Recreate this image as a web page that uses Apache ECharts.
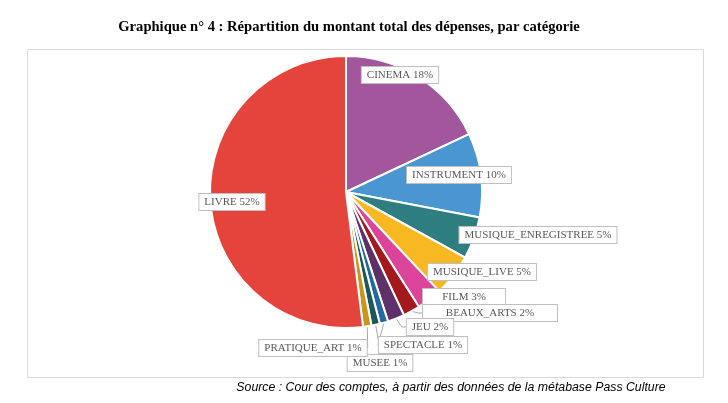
<!DOCTYPE html>
<html>
<head>
<meta charset="utf-8">
<script src="https://cdn.jsdelivr.net/npm/echarts@6/dist/echarts.min.js"></script>
<style>
html,body{margin:0;padding:0;background:#fff;}
#chart{width:728px;height:403px;}
</style>
</head>
<body>
<div id="chart"></div>
<script>
// Data (percent of total spending, clockwise from top)
const categories = ['CINEMA','INSTRUMENT','MUSIQUE_ENREGISTREE','MUSIQUE_LIVE','FILM','BEAUX_ARTS','JEU','SPECTACLE','MUSEE','PRATIQUE_ART','LIVRE'];
const shares = [18,10,5,5,3,2,2,1,1,1,52];
const colors = ['#A2569C','#4A96D0','#2E7D80','#F8B822','#DC449A','#A3191E','#5E3168','#2468A0','#1E5858','#C8961A','#E5443D'];
const titleText = 'Graphique n° 4 : Répartition du montant total des dépenses, par catégorie';
const sourceText = 'Source : Cour des comptes, à partir des données de la métabase Pass Culture';

// Label layout (label box centres, optional box widths) and which labels use leader lines
const labelCenters = [[400,75],[459,175],[538,235],[482,272],[464,297],[490,313],[430,327],[423,345],[380,363],[313,348],[232,202]];
const labelWidths = [null,null,null,null,72,124,null,null,null,null,null];
const withLine = [false,false,false,false,false,true,true,true,true,true,false];

const chart = echarts.init(document.getElementById('chart'));
const dataItems = categories.map((name, i) => {
  const item = {
    name: name,
    value: shares[i],
    itemStyle: { color: colors[i] },
    labelLine: { show: withLine[i] }
  };
  if (labelWidths[i]) item.label = { width: labelWidths[i], align: 'center' };
  return item;
});

chart.setOption({
  animation: false,
  graphic: [
    { type: 'text', x: 349, y: 27, style: { text: titleText, fontFamily: 'Liberation Serif', fontWeight: 'bold', fontSize: 14.6, fill: '#000', align: 'center', verticalAlign: 'middle' }, silent: true },
    { type: 'rect', shape: { x: 27.5, y: 49.5, width: 676, height: 328 }, style: { fill: 'none', stroke: '#d9d9d9', lineWidth: 1 }, silent: true },
    { type: 'text', x: 451, y: 388, style: { text: sourceText, fontFamily: 'Liberation Sans', fontStyle: 'italic', fontSize: 12.3, fill: '#000', align: 'center', verticalAlign: 'middle' }, silent: true }
  ],
  series: [{
    type: 'pie',
    center: [346, 192],
    radius: 136,
    startAngle: 90,
    clockwise: true,
    avoidLabelOverlap: false,
    emphasis: { disabled: true },
    itemStyle: { borderColor: '#fff', borderWidth: 2 },
    label: {
      show: true,
      position: 'outside',
      formatter: p => p.name + ' ' + p.value + '%',
      fontFamily: 'Liberation Serif',
      fontSize: 11,
      color: '#595959',
      backgroundColor: '#fff',
      borderColor: '#bfbfbf',
      borderWidth: 1,
      padding: [3, 5, 2, 5]
    },
    labelLine: { lineStyle: { color: '#a6a6a6', width: 1 }, length: 8, length2: 4 },
    labelLayout: function (params) {
      const c = labelCenters[params.dataIndex];
      return { x: c[0], y: c[1], align: 'center', verticalAlign: 'middle' };
    },
    data: dataItems
  }]
});
</script>
</body>
</html>
